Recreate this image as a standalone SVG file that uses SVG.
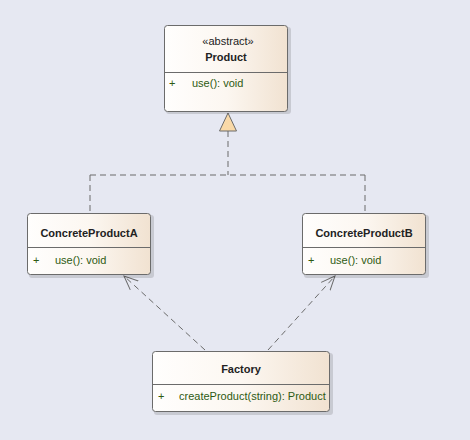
<svg xmlns="http://www.w3.org/2000/svg" width="470" height="440" viewBox="0 0 470 440">
<style>
.box{stroke:#6b6b6b;stroke-width:1;fill:url(#g)}
.sh{fill:#000;opacity:0.13}
.div{stroke:#6b6b6b;stroke-width:1}
.t{font-family:"Liberation Sans",Arial,sans-serif;font-size:11px;fill:#222}
.b{font-weight:bold;text-anchor:middle}
.c{text-anchor:middle}
.op{font-family:"Liberation Sans",Arial,sans-serif;font-size:11px;fill:#2e5a12}
.dash{stroke:#6b6b6b;stroke-width:1;stroke-dasharray:6,4;fill:none}
</style>
<defs>
<linearGradient id="g" x1="0" y1="0" x2="1" y2="0">
<stop offset="0" stop-color="#fffefd"/>
<stop offset="0.5" stop-color="#fcf7f1"/>
<stop offset="1" stop-color="#f1e2d1"/>
</linearGradient>
<marker id="open" markerWidth="16" markerHeight="16" refX="14" refY="8" orient="auto" markerUnits="userSpaceOnUse">
<path d="M0,2 L14,8 L0,14" fill="none" stroke="#6b6b6b" stroke-width="1"/>
</marker>
</defs>
<rect width="470" height="440" fill="#e6e8f2"/>
<g id="connectors">
<path class="dash" d="M228,131 V175 M90,175 H365 M90,175 V213 M365,175 V213"/>
<polygon points="228,113 219.5,131 236.5,131" fill="#f9d9a8" stroke="#6b6b6b" stroke-width="1"/>
<line class="dash" x1="205" y1="350" x2="124" y2="276" marker-end="url(#open)"/>
<line class="dash" x1="268" y1="350" x2="335" y2="276" marker-end="url(#open)"/>
</g>
<g id="Product">
<rect class="sh" x="166" y="27" width="125" height="87" rx="3"/>
<rect class="box" x="164.5" y="25.5" width="123" height="86" rx="3"/>
<line class="div" x1="164.5" y1="72.5" x2="287.5" y2="72.5"/>
<text class="t c" x="228" y="45">«abstract»</text>
<text class="t b" x="226" y="61">Product</text>
<text class="op" x="169" y="87">+</text>
<text class="op" x="192" y="87">use(): void</text>
</g>
<g id="ConcreteProductA">
<rect class="sh" x="29" y="215" width="125" height="63" rx="3"/>
<rect class="box" x="27.5" y="213.5" width="123" height="61" rx="3"/>
<line class="div" x1="27.5" y1="247.5" x2="150.5" y2="247.5"/>
<text class="t b" x="89" y="237">ConcreteProductA</text>
<text class="op" x="33" y="264">+</text>
<text class="op" x="55" y="264">use(): void</text>
</g>
<g id="ConcreteProductB">
<rect class="sh" x="304" y="215" width="125" height="63" rx="3"/>
<rect class="box" x="302.5" y="213.5" width="123" height="61" rx="3"/>
<line class="div" x1="302.5" y1="247.5" x2="425.5" y2="247.5"/>
<text class="t b" x="364" y="237">ConcreteProductB</text>
<text class="op" x="308" y="264">+</text>
<text class="op" x="330" y="264">use(): void</text>
</g>
<g id="Factory">
<rect class="sh" x="154" y="353" width="179" height="62" rx="3"/>
<rect class="box" x="152.5" y="351.5" width="177" height="60" rx="3"/>
<line class="div" x1="152.5" y1="384.5" x2="329.5" y2="384.5"/>
<text class="t b" x="241" y="373">Factory</text>
<text class="op" x="158" y="400">+</text>
<text class="op" x="179" y="400">createProduct(string): Product</text>
</g>
</svg>
